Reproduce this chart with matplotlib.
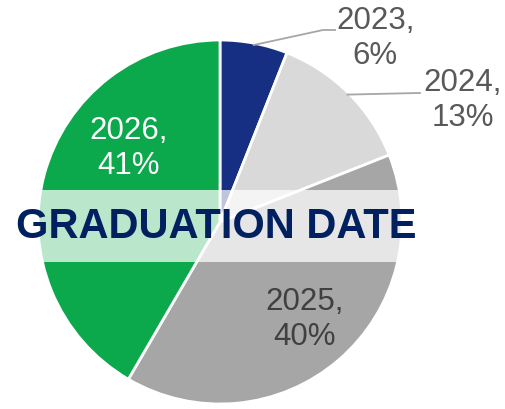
import matplotlib
matplotlib.use("Agg")
import matplotlib.pyplot as plt
import numpy as np

# graduation year split
years = ["2023", "2024", "2025", "2026"]
sizes = [6.0, 13.0, 39.4, 41.6]          # slice angles
pct_labels = ["6%", "13%", "40%", "41%"]  # printed labels
colors = ["#172f82", "#d9d9d9", "#a6a6a6", "#0ba84c"]
label_colors = ["#595959", "#595959", "#404040", "#ffffff"]

plt.rcParams["font.family"] = ["Liberation Sans", "DejaVu Sans"]

fig = plt.figure(figsize=(5.05, 4.09), dpi=100)
ax = fig.add_axes([38 / 505, 5 / 409, 364 / 505, 364 / 409])
wedges, _ = ax.pie(sizes, colors=colors, startangle=90, counterclock=False,
                   radius=1.0, wedgeprops=dict(edgecolor="white", linewidth=2))
ax.set_xlim(-1, 1); ax.set_ylim(-1, 1); ax.set_aspect("equal")
ax.axis("off")

# label placement (in pie-radius units): inside for big slices, outside w/ leader for small
label_pos = {"2023": (0.852, 1.01), "2024": (1.335, 0.67),
             "2025": (0.467, -0.538), "2026": (-0.505, 0.405)}
leader_end = {"2023": [(0.566, 1.055), (0.632, 1.055)],
              "2024": [(1.099, 0.709)]}
for w, yr, p, lc in zip(wedges, years, pct_labels, label_colors):
    x, y = label_pos[yr]
    ax.text(x, y, f"{yr},\n{p}", ha="center", va="center", fontsize=22.5,
            color=lc, linespacing=1.22, clip_on=False, zorder=5)
    if yr in leader_end:
        mid = np.deg2rad((w.theta1 + w.theta2) / 2)
        pts = [(0.99 * np.cos(mid), 0.99 * np.sin(mid))] + leader_end[yr]
        ax.plot([q[0] for q in pts], [q[1] for q in pts], color="#a6a6a6",
                lw=1.3, clip_on=False, zorder=4)

# translucent band behind the title
band = plt.Rectangle((0, (409 - 262) / 409), 425 / 505, 72 / 409,
                     transform=fig.transFigure, facecolor="white", alpha=0.72,
                     edgecolor="none", zorder=6)
fig.add_artist(band)
fig.text(216 / 505, 1 - 227 / 409, "GRADUATION DATE", ha="center", va="center",
         fontsize=30, fontweight="bold", color="#002060", zorder=7)

fig.savefig("out.png", dpi=100, facecolor="white")
